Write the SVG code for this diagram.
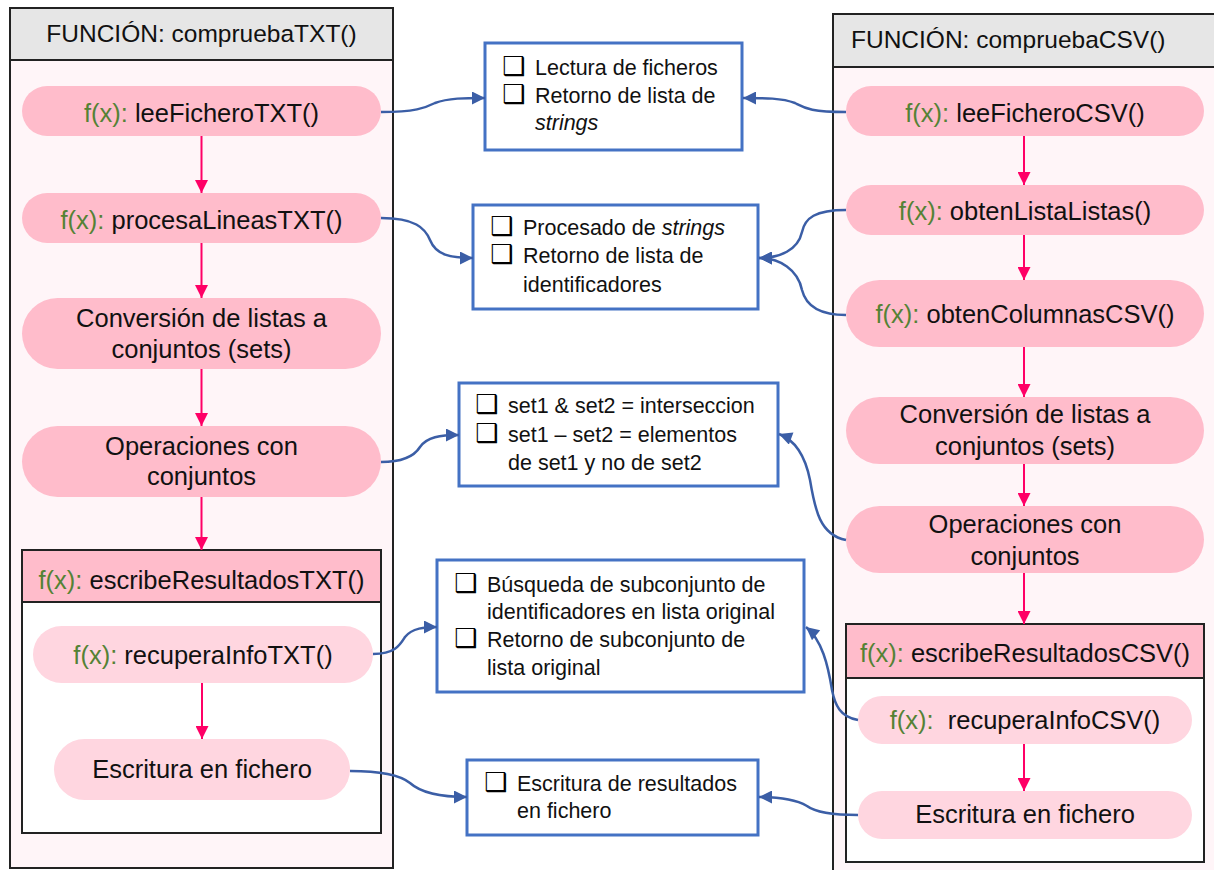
<svg xmlns="http://www.w3.org/2000/svg" width="1214" height="870" viewBox="0 0 1214 870">
<style>
.frame{fill:#fff5f8;stroke:#222;stroke-width:2}
.hdr{fill:#e6e6e6;stroke:#222;stroke-width:2}
.ibox{fill:#fff;stroke:#222;stroke-width:2}
.ihdr{fill:#ffbccb;stroke:#222;stroke-width:2}
.pill{fill:#ffbccb}
.lpill{fill:#ffd6e0}
.info{fill:#fff;stroke:#4472c4;stroke-width:3}
.ht{font-family:"Liberation Sans",Arial,sans-serif;font-size:24.5px;fill:#111}
.pt{font-family:"Liberation Sans",Arial,sans-serif;font-size:25.5px;fill:#111;text-anchor:middle}
.fx{fill:#548235}
.bt{font-family:"Liberation Sans",Arial,sans-serif;font-size:21.5px;fill:#111}
.cb{font-family:"DejaVu Sans",sans-serif;font-size:26px;font-weight:bold;fill:#000}
.pk{fill:none;stroke:#ff0066;stroke-width:2;marker-end:url(#pa)}
.bl{fill:none;stroke:#3b5ea6;stroke-width:2.5;marker-end:url(#ba)}
</style>
<defs>
<marker id="pa" viewBox="0 0 10 10" refX="10" refY="5" markerWidth="13" markerHeight="13" markerUnits="userSpaceOnUse" orient="auto"><path d="M0,0 L10,5 L0,10 z" fill="#ff0066"/></marker>
<marker id="ba" viewBox="0 0 10 10" refX="10" refY="5" markerWidth="14" markerHeight="13" markerUnits="userSpaceOnUse" orient="auto"><path d="M0,0 L10,5 L0,10 z" fill="#3b5ea6"/></marker>
</defs>

<g id="frame-txt">
<rect class="frame" x="10" y="8" width="383" height="860"/>
<rect class="hdr" x="10" y="8" width="383" height="52"/>
<text class="ht" x="201.5" y="42" text-anchor="middle">FUNCIÓN: compruebaTXT()</text>
</g>
<g id="frame-csv">
<rect class="frame" x="833" y="14" width="392" height="870"/>
<rect class="hdr" x="833" y="14" width="392" height="53"/>
<text class="ht" x="851" y="48">FUNCIÓN: compruebaCSV()</text>
</g>

<g id="leeFicheroTXT"><rect class="pill" x="22" y="86" width="359" height="50" rx="25"/><text class="pt" x="201.5" y="122"><tspan class="fx">f(x): </tspan>leeFicheroTXT()</text></g>
<g id="procesaLineasTXT"><rect class="pill" x="22" y="193" width="359" height="50" rx="25"/><text class="pt" x="201.5" y="229"><tspan class="fx">f(x): </tspan>procesaLineasTXT()</text></g>
<g id="conversionTXT"><rect class="pill" x="22" y="298" width="359" height="71" rx="35.5"/><text class="pt" x="201.5" y="327">Conversión de listas a</text><text class="pt" x="201.5" y="358">conjuntos (sets)</text></g>
<g id="operacionesTXT"><rect class="pill" x="22" y="426" width="359" height="71" rx="35.5"/><text class="pt" x="201.5" y="455">Operaciones con</text><text class="pt" x="201.5" y="485">conjuntos</text></g>
<g id="escribeResultadosTXT"><rect class="ibox" x="22" y="550" width="359" height="283"/><rect class="ihdr" x="22" y="550" width="359" height="52"/><text class="pt" x="201.5" y="589"><tspan class="fx">f(x): </tspan>escribeResultadosTXT()</text></g>
<g id="recuperaInfoTXT"><rect class="lpill" x="33" y="626" width="340" height="57" rx="28.5"/><text class="pt" x="203" y="664"><tspan class="fx">f(x): </tspan>recuperaInfoTXT()</text></g>
<g id="escrituraTXT"><rect class="lpill" x="54" y="739" width="296" height="61" rx="30.5"/><text class="pt" x="202" y="778">Escritura en fichero</text></g>

<g id="leeFicheroCSV"><rect class="pill" x="846" y="86" width="358" height="50" rx="25"/><text class="pt" x="1025" y="122"><tspan class="fx">f(x): </tspan>leeFicheroCSV()</text></g>
<g id="obtenListaListas"><rect class="pill" x="846" y="185" width="358" height="50" rx="25"/><text class="pt" x="1025" y="220"><tspan class="fx">f(x): </tspan>obtenListaListas()</text></g>
<g id="obtenColumnasCSV"><rect class="pill" x="846" y="280" width="358" height="67" rx="33.5"/><text class="pt" x="1025" y="323"><tspan class="fx">f(x): </tspan>obtenColumnasCSV()</text></g>
<g id="conversionCSV"><rect class="pill" x="846" y="397" width="358" height="67" rx="33.5"/><text class="pt" x="1025" y="423">Conversión de listas a</text><text class="pt" x="1025" y="455">conjuntos (sets)</text></g>
<g id="operacionesCSV"><rect class="pill" x="846" y="506" width="358" height="67" rx="33.5"/><text class="pt" x="1025" y="533">Operaciones con</text><text class="pt" x="1025" y="565">conjuntos</text></g>
<g id="escribeResultadosCSV"><rect class="ibox" x="846" y="624" width="358" height="238"/><rect class="ihdr" x="846" y="624" width="358" height="54"/><text class="pt" x="1025" y="662"><tspan class="fx">f(x): </tspan>escribeResultadosCSV()</text></g>
<g id="recuperaInfoCSV"><rect class="lpill" x="858" y="696" width="334" height="48" rx="24"/><text class="pt" x="1025" y="729" xml:space="preserve"><tspan class="fx">f(x):  </tspan>recuperaInfoCSV()</text></g>
<g id="escrituraCSV"><rect class="lpill" x="858" y="791" width="334" height="48" rx="24"/><text class="pt" x="1025" y="823">Escritura en fichero</text></g>

<g id="info-lectura"><rect class="info" x="485" y="43" width="257" height="107"/>
<text class="cb" x="502" y="75">❑</text><text class="bt" x="535" y="75">Lectura de ficheros</text>
<text class="cb" x="502" y="103">❑</text><text class="bt" x="535" y="103">Retorno de lista de</text>
<text class="bt" x="535" y="130" font-style="italic">strings</text></g>
<g id="info-procesado"><rect class="info" x="473" y="205" width="285" height="104"/>
<text class="cb" x="490" y="235">❑</text><text class="bt" x="523" y="235">Procesado de <tspan font-style="italic">strings</tspan></text>
<text class="cb" x="490" y="263">❑</text><text class="bt" x="523" y="263">Retorno de lista de</text>
<text class="bt" x="523" y="292">identificadores</text></g>
<g id="info-sets"><rect class="info" x="459" y="383" width="319" height="103"/>
<text class="cb" x="475" y="413">❑</text><text class="bt" x="508" y="413">set1 &amp; set2 = interseccion</text>
<text class="cb" x="475" y="442">❑</text><text class="bt" x="508" y="442">set1 – set2 = elementos</text>
<text class="bt" x="508" y="470">de set1 y no de set2</text></g>
<g id="info-busqueda"><rect class="info" x="437" y="560" width="367" height="132"/>
<text class="cb" x="454" y="592">❑</text><text class="bt" x="487" y="592">Búsqueda de subconjunto de</text>
<text class="bt" x="487" y="619">identificadores en lista original</text>
<text class="cb" x="454" y="647">❑</text><text class="bt" x="487" y="647">Retorno de subconjunto de</text>
<text class="bt" x="487" y="675">lista original</text></g>
<g id="info-escritura"><rect class="info" x="467" y="760" width="291" height="75"/>
<text class="cb" x="484" y="791">❑</text><text class="bt" x="517" y="791">Escritura de resultados</text>
<text class="bt" x="517" y="818">en fichero</text></g>

<g id="connectors">
<line class="pk" x1="201.5" y1="136" x2="201.5" y2="193"/>
<line class="pk" x1="201.5" y1="243" x2="201.5" y2="298"/>
<line class="pk" x1="201.5" y1="369" x2="201.5" y2="426"/>
<line class="pk" x1="201.5" y1="497" x2="201.5" y2="550"/>
<line class="pk" x1="202" y1="683" x2="202" y2="739"/>
<line class="pk" x1="1024" y1="136" x2="1024" y2="185"/>
<line class="pk" x1="1024" y1="235" x2="1024" y2="280"/>
<line class="pk" x1="1024" y1="347" x2="1024" y2="397"/>
<line class="pk" x1="1024" y1="464" x2="1024" y2="506"/>
<line class="pk" x1="1024" y1="573" x2="1024" y2="624"/>
<line class="pk" x1="1024" y1="744" x2="1024" y2="791"/>
<path class="bl" d="M381,112 C415,112 425,108 435,103 C448,98 465,98 485,98"/>
<path class="bl" d="M846,112 C810,112 805,108 795,103 C782,98 765,98 743,98"/>
<path class="bl" d="M381,218 C415,218 425,228 430,240 C436,255 450,258 473,258"/>
<path class="bl" d="M846,210 C815,210 805,218 802,232 C798,250 780,258 759,258"/>
<path class="bl" d="M846,315 C815,315 805,302 802,290 C798,270 780,258 759,258"/>
<path class="bl" d="M381,462 C405,462 415,455 420,447 C427,437 440,435 459,435"/>
<path class="bl" d="M846,540 C820,535 815,510 810,480 C805,455 795,440 779,434"/>
<path class="bl" d="M373,654 C395,654 400,645 405,637 C412,628 425,627 437,627"/>
<path class="bl" d="M858,720 C840,717 835,705 832,690 C828,665 822,640 806,627"/>
<path class="bl" d="M350,771 C380,771 400,775 410,783 C420,792 440,797 467,797"/>
<path class="bl" d="M858,815 C830,815 815,812 807,806 C795,799 780,797 759,797"/>
</g>
</svg>
